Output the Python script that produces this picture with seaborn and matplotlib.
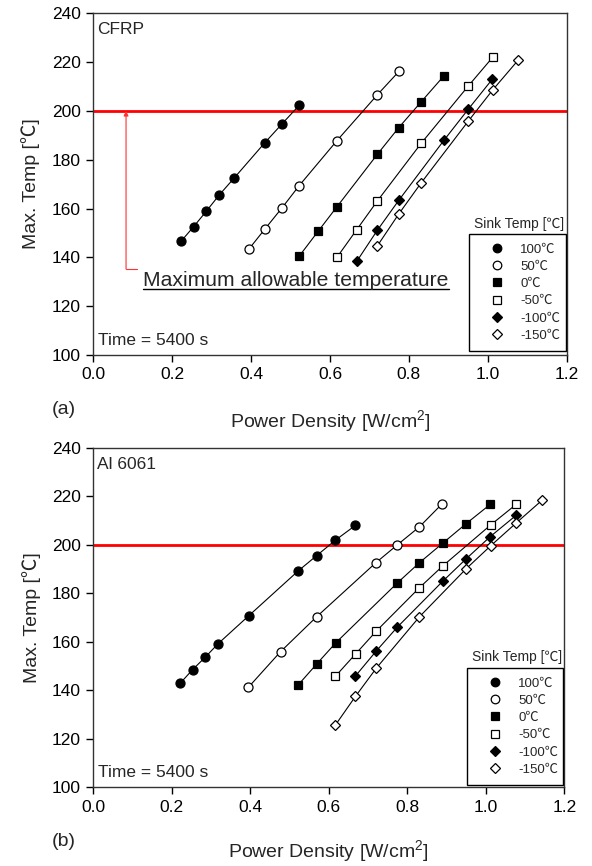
import matplotlib
matplotlib.use("Agg")
import matplotlib.pyplot as plt
import seaborn as sns
import pandas as pd
from matplotlib.lines import Line2D

sns.set_style("ticks")
plt.rcParams["font.family"] = ["Liberation Sans", "Noto Sans CJK KR", "DejaVu Sans"]
plt.rcParams["mathtext.fontset"] = "custom"
plt.rcParams["mathtext.rm"] = "Liberation Sans"
plt.rcParams["mathtext.it"] = "Liberation Sans:italic"

# ---------------- data ----------------
sink_labels = ["100℃", "50℃", "0℃", "-50℃", "-100℃", "-150℃"]

# (a) CFRP
cfrp_x_100 = [0.222, 0.254, 0.286, 0.319, 0.356, 0.435, 0.478, 0.522]
cfrp_y_100 = [146.5, 152.5, 158.8, 165.5, 172.3, 187.0, 194.6, 202.3]
cfrp_x_50 = [0.395, 0.436, 0.479, 0.522, 0.617, 0.720, 0.776]
cfrp_y_50 = [143.5, 151.8, 160.4, 169.4, 187.7, 206.6, 216.4]
cfrp_x_0 = [0.522, 0.570, 0.618, 0.720, 0.774, 0.831, 0.889]
cfrp_y_0 = [140.5, 150.7, 160.8, 182.2, 193.1, 203.7, 214.4]
cfrp_x_m50 = [0.618, 0.668, 0.720, 0.831, 0.950, 1.012]
cfrp_y_m50 = [140.1, 151.4, 163.1, 186.7, 210.1, 221.9]
cfrp_x_m100 = [0.668, 0.720, 0.774, 0.889, 0.951, 1.011]
cfrp_y_m100 = [138.4, 151.1, 163.3, 188.0, 200.8, 212.9]
cfrp_x_m150 = [0.720, 0.774, 0.831, 0.950, 1.012, 1.077]
cfrp_y_m150 = [144.7, 157.7, 170.5, 195.7, 208.5, 220.8]

# (b) Al 6061
al_x_100 = [0.222, 0.253, 0.285, 0.318, 0.396, 0.522, 0.569, 0.617, 0.668]
al_y_100 = [143.0, 148.5, 153.6, 159.2, 170.7, 189.2, 195.5, 201.9, 208.0]
al_x_50 = [0.395, 0.477, 0.569, 0.720, 0.775, 0.831, 0.889]
al_y_50 = [141.2, 155.9, 170.3, 192.6, 200.0, 207.4, 216.9]
al_x_0 = [0.522, 0.569, 0.618, 0.775, 0.831, 0.890, 0.950, 1.011]
al_y_0 = [142.2, 150.8, 159.6, 184.3, 192.6, 200.6, 208.7, 216.6]
al_x_m50 = [0.617, 0.669, 0.721, 0.831, 0.890, 1.012, 1.077]
al_y_m50 = [145.8, 155.1, 164.4, 182.3, 191.2, 208.1, 216.6]
al_x_m100 = [0.668, 0.721, 0.775, 0.890, 0.950, 1.011, 1.077]
al_y_m100 = [145.9, 156.2, 166.1, 184.9, 194.2, 203.3, 212.1]
al_x_m150 = [0.617, 0.668, 0.721, 0.831, 0.950, 1.012, 1.077, 1.143]
al_y_m150 = [125.7, 137.5, 149.1, 170.3, 190.1, 199.5, 208.9, 218.3]

x_ticks = [0.0, 0.2, 0.4, 0.6, 0.8, 1.0, 1.2]
y_ticks = [100, 120, 140, 160, 180, 200, 220, 240]
limit_temp = 200

cfrp_series = [(cfrp_x_100, cfrp_y_100), (cfrp_x_50, cfrp_y_50), (cfrp_x_0, cfrp_y_0),
               (cfrp_x_m50, cfrp_y_m50), (cfrp_x_m100, cfrp_y_m100), (cfrp_x_m150, cfrp_y_m150)]
al_series = [(al_x_100, al_y_100), (al_x_50, al_y_50), (al_x_0, al_y_0),
             (al_x_m50, al_y_m50), (al_x_m100, al_y_m100), (al_x_m150, al_y_m150)]

# marker styles per sink temperature
styles = [("o", "black", 6.5), ("o", "white", 6.5), ("s", "black", 5.8),
          ("s", "white", 5.5), ("D", "black", 5.5), ("D", "white", 5.5)]

fig = plt.figure(figsize=(5.92, 8.66), dpi=100)
ax1 = fig.add_axes([0.1576, 0.5901, 0.7997, 0.3946])
ax2 = fig.add_axes([0.1576, 0.0909, 0.7956, 0.3921])


def draw_panel(ax, series, name, leg_bbox, title_y, xlab_y):
    ax.axhline(limit_temp, color="#ff0000", lw=2.0, zorder=1.5)
    for (xs, ys), lab, (m, fc, ms) in zip(series, sink_labels, styles):
        df = pd.DataFrame({"power": xs, "temp": ys})
        sns.lineplot(data=df, x="power", y="temp", ax=ax, color="black", lw=0.8,
                     marker=m, markersize=ms, markerfacecolor=fc,
                     markeredgecolor="black", markeredgewidth=0.9,
                     sort=False, estimator=None, legend=False, zorder=3)
    ax.set_xlim(0, 1.2)
    ax.set_ylim(100, 240)
    ax.set_xticks(x_ticks)
    ax.set_xticklabels([f"{v:.1f}" for v in x_ticks])
    ax.set_yticks(y_ticks)
    ax.tick_params(axis="both", which="major", direction="out", length=5, width=1,
                   labelsize=12.5, colors="black", pad=4)
    for sp in ax.spines.values():
        sp.set_visible(True)
        sp.set_color("#333333")
        sp.set_linewidth(1.0)
    ax.set_xlabel("Power Density [W/cm$^{2}$]", fontsize=14)
    ax.set_ylabel("Max. Temp [℃]", fontsize=14)
    ax.xaxis.set_label_coords(0.5, xlab_y)
    ax.xaxis.label.set_va("center")
    ax.yaxis.set_label_coords(-0.132, 0.5)
    ax.yaxis.label.set_va("center")

    ax.text(0.0085, 0.9385, name, transform=ax.transAxes, fontsize=12.5,
            ha="left", va="baseline")
    ax.text(0.0106, 0.029, "Time = 5400 s", transform=ax.transAxes, fontsize=12.5,
            ha="left", va="baseline")

    handles = [Line2D([], [], ls="none", marker=m, markersize=ms * 0.95, markerfacecolor=fc,
                      markeredgecolor="black", markeredgewidth=0.9)
               for (m, fc, ms) in styles]
    leg = ax.legend(handles, sink_labels, loc="lower left", bbox_to_anchor=leg_bbox,
                    mode="expand", borderaxespad=0, fontsize=9.5, frameon=True,
                    fancybox=False, framealpha=1, edgecolor="black",
                    borderpad=0.7, handlelength=2.9, handletextpad=0.3,
                    labelspacing=0.38)
    leg.get_frame().set_linewidth(1.0)
    ax.text(0.995, title_y, "Sink Temp [℃]", transform=ax.transAxes, fontsize=10,
            ha="right", va="center")


draw_panel(ax1, cfrp_series, "CFRP", (0.7935, 0.0117, 0.206, 0.3), 0.383, -0.193)
draw_panel(ax2, al_series, "Al 6061", (0.7934, 0.0068, 0.2039, 0.3), 0.3846, -0.187)

# annotation in panel (a)
arrow_x = 0.083
arrow_y0 = 135.2
ax1.annotate("", xy=(arrow_x, limit_temp), xytext=(arrow_x, arrow_y0),
             arrowprops=dict(arrowstyle="-|>", color="#ff3030", lw=0.8,
                             mutation_scale=7, shrinkA=0, shrinkB=0), zorder=2)
ax1.plot([arrow_x, 0.111], [arrow_y0, arrow_y0], color="#ff3030", lw=0.8)
t = ax1.text(0.127, 128.4, "Maximum allowable temperature", fontsize=15.2,
             ha="left", va="baseline")

fig.text(64 / 592, 1 - 410 / 866, "(a)", fontsize=14, ha="center", va="center")
fig.text(64 / 592, 1 - 842 / 866, "(b)", fontsize=14, ha="center", va="center")

fig.canvas.draw()
bb = t.get_window_extent(renderer=fig.canvas.get_renderer())
inv = ax1.transData.inverted()
(ux0, _), (ux1, _) = inv.transform([(bb.x0, bb.y0), (bb.x1, bb.y0)])
ax1.plot([ux0, ux1], [127.0, 127.0], color="black", lw=1.0)

fig.savefig("out.png", dpi=100)
